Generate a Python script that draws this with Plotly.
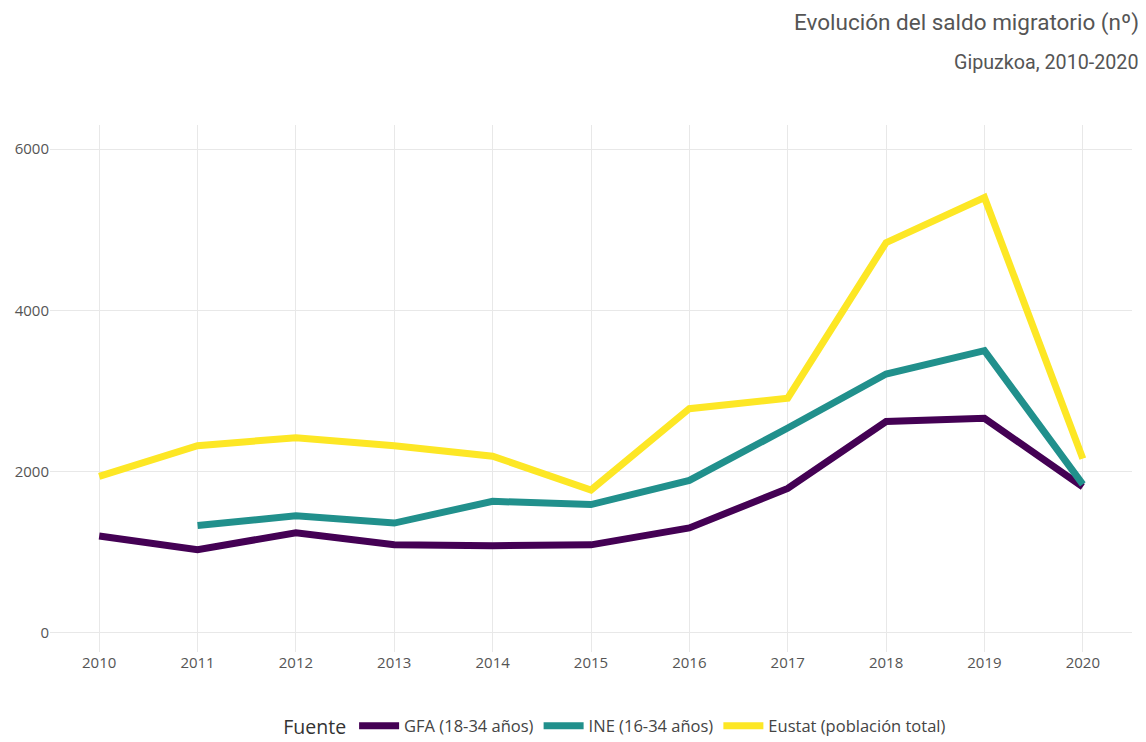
import plotly.graph_objects as go

years = [2010, 2011, 2012, 2013, 2014, 2015, 2016, 2017, 2018, 2019, 2020]
gfa = [1200, 1030, 1240, 1090, 1080, 1090, 1300, 1790, 2620, 2660, 1810]
ine_years = [2011, 2012, 2013, 2014, 2015, 2016, 2017, 2018, 2019, 2020]
ine = [1330, 1450, 1360, 1630, 1590, 1890, 2540, 3210, 3500, 1840]
eustat = [1940, 2320, 2420, 2320, 2190, 1770, 2780, 2910, 4840, 5400, 2160]

fig = go.Figure()
fig.add_trace(go.Scatter(x=years, y=gfa, mode='lines', name='GFA (18-34 años)',
                         line=dict(color='#440154', width=7)))
fig.add_trace(go.Scatter(x=ine_years, y=ine, mode='lines', name='INE (16-34 años)',
                         line=dict(color='#21908C', width=7)))
fig.add_trace(go.Scatter(x=years, y=eustat, mode='lines', name='Eustat (población total)',
                         line=dict(color='#FDE725', width=7)))

# page body has an 8px margin, so the figure is sized to fill the rest
fig.update_layout(
    width=1138, height=734,
    paper_bgcolor='white', plot_bgcolor='white',
    margin=dict(l=42, r=14, t=117, b=90),
    font=dict(family='Open Sans', color='#555'),
    showlegend=True,
    legend=dict(orientation='h', x=0.5345, xanchor='center', xref='container',
                y=0.021, yanchor='middle', yref='container', itemwidth=40,
                title=dict(text='Fuente', font=dict(size=19.5, color='#333')),
                font=dict(size=16.5, color='#444')),
)
fig.add_annotation(text='Evolución del saldo migratorio (nº)', xref='paper', yref='paper',
                   x=1.0, y=1.0, xshift=9, yshift=103, xanchor='right', yanchor='middle',
                   showarrow=False, font=dict(family='Roboto', size=22.5, color='#555'))
fig.add_annotation(text='Gipuzkoa, 2010-2020', xref='paper', yref='paper',
                   x=1.0, y=1.0, xshift=9, yshift=63, xanchor='right', yanchor='middle',
                   showarrow=False, font=dict(family='Roboto', size=19.7, color='#555'))

fig.update_xaxes(range=[2009.5, 2020.5], tickvals=years, showgrid=True, gridcolor='#e8e8e8',
                 zeroline=False, showline=False, automargin=False,
                 tickfont=dict(size=15, color='#555'))
fig.update_yaxes(range=[-240, 6300], tickvals=[0, 2000, 4000, 6000], showgrid=True,
                 gridcolor='#e8e8e8', zeroline=False, showline=False, automargin=False,
                 tickfont=dict(size=15, color='#555'))

fig.write_html('out.html')
